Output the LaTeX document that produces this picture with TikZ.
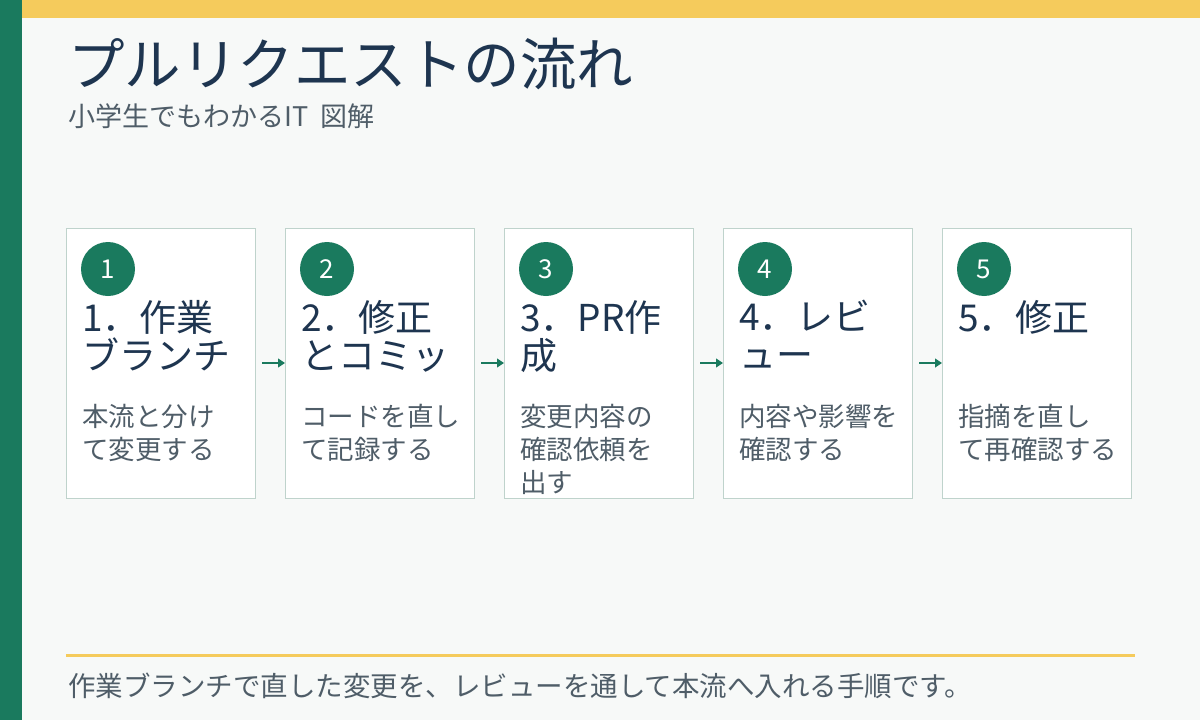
\documentclass[tikz,border=0pt]{standalone}
\usepackage{fontspec}
\setmainfont{Noto Sans CJK JP}
\usetikzlibrary{arrows.meta}
\definecolor{bg}{HTML}{F7F9F8}
\definecolor{grn}{HTML}{1A7A5E}
\definecolor{yel}{HTML}{F5CB5C}
\definecolor{navy}{HTML}{1E3550}
\definecolor{gry}{HTML}{4F5D68}
\definecolor{bord}{HTML}{BFD3CC}
\begin{document}
\begin{tikzpicture}[x=1pt,y=-1pt,
 box/.style={draw=bord,fill=white,line width=1pt,minimum width=189pt,minimum height=270pt,anchor=north west,inner sep=0},
 num/.style={circle,fill=grn,text=white,minimum size=54pt,inner sep=0,font=\fontsize{26}{26}\selectfont},
 head/.style={anchor=north west,align=left,text=navy,inner sep=0,font=\fontsize{37}{38}\selectfont},
 body/.style={anchor=north west,align=left,text=gry,inner sep=0,font=\fontsize{26.5}{33}\selectfont},
 arr/.style={grn,line width=1.2pt,-{Triangle[length=7pt,width=9pt]}}]
\useasboundingbox (0,0) rectangle (1200,720);
\fill[bg] (0,0) rectangle (1200,720);
\fill[yel] (0,0) rectangle (1200,18);
\fill[grn] (0,0) rectangle (22,720);
\node[anchor=west,text=navy,inner sep=0,font=\fontsize{56.5}{56.5}\selectfont] (t) at (68,64) {プルリクエストの流れ};
\node[anchor=west,text=gry,inner sep=0,font=\fontsize{27}{27}\selectfont] (s) at (68,116) {小学生でもわかるIT\hspace{12pt}図解};
\foreach \i/\h/\b in {1/{1．作業\\ブランチ}/{本流と分け\\て変更する},
 2/{2．修正\\とコミッ}/{コードを直し\\て記録する},
 3/{3．PR作\\成}/{変更内容の\\確認依頼を\\出す},
 4/{4．レビ\\ュー}/{内容や影響を\\確認する},
 5/{5．修正}/{指摘を直し\\て再確認する}}{
 \pgfmathsetmacro\xx{66+219*(\i-1)}
 \node[box] (b\i) at (\xx,228) {};
 \node[num] (n\i) at (\xx+42,269) {\i};
 \node[head] (h\i) at (\xx+16,300) {\h};
 \node[body] (d\i) at (\xx+16,404) {\b};
}
\foreach \i/\j in {1/2,2/3,3/4,4/5}{
 \coordinate (a\i) at ([xshift=6pt]b\i.east |- 0,363);
 \draw[arr] (a\i) -- (b\j.west |- a\i);
}
\draw[yel,line width=3pt] (66,655) -- (1135,655);
\node[anchor=west,text=gry,inner sep=0,font=\fontsize{27.5}{27.5}\selectfont] (f) at (68,686) {作業ブランチで直した変更を、レビューを通して本流へ入れる手順です。};
\end{tikzpicture}
\end{document}
